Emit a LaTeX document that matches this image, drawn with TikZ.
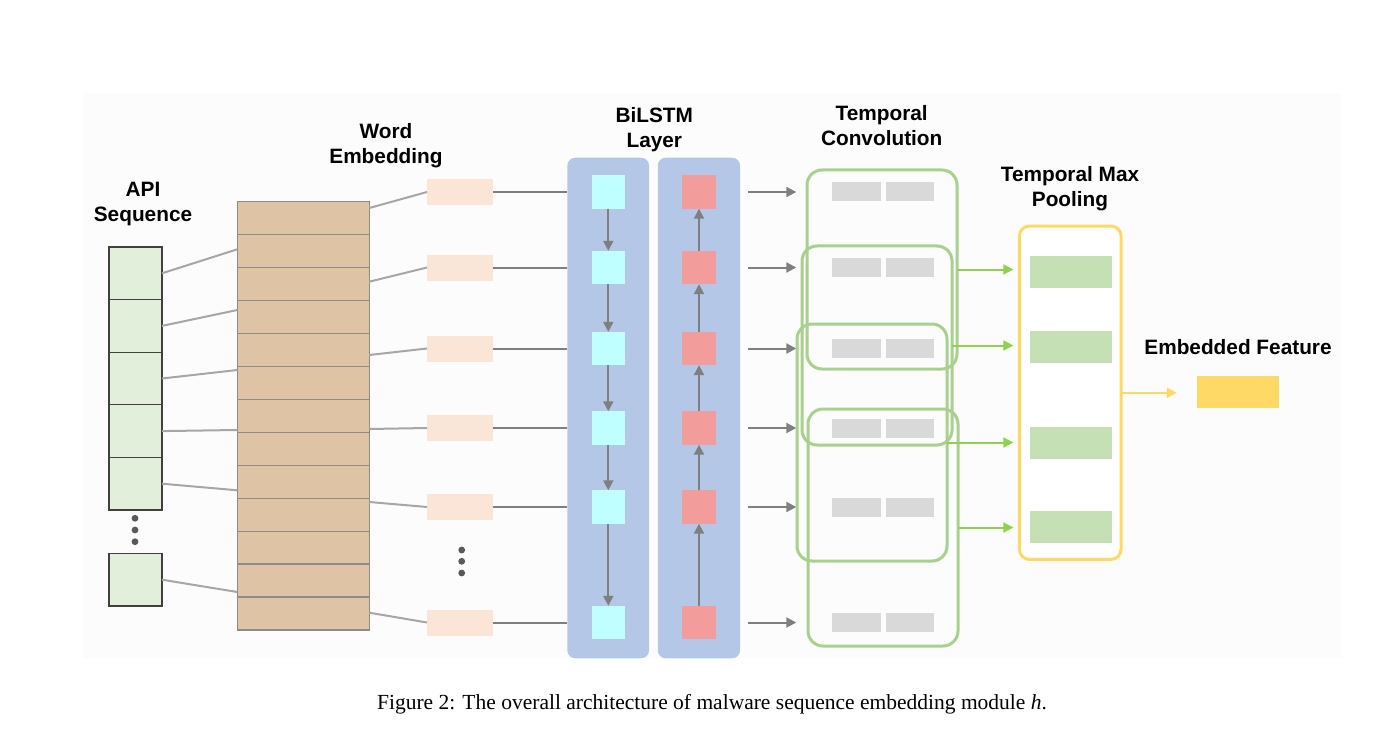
\documentclass[tikz,border=0pt]{standalone}
\usepackage{fontspec}
\setmainfont{Liberation Serif}
\newfontfamily\labelfont{Liberation Sans}
\usetikzlibrary{arrows.meta,calc}
\definecolor{bgc}{HTML}{FCFCFC}
\definecolor{apigreen}{HTML}{E2EFDA}
\definecolor{embtan}{HTML}{DFC3A5}
\definecolor{embline}{HTML}{8C8C8C}
\definecolor{orangelight}{HTML}{FBE5D6}
\definecolor{panelblue}{HTML}{B4C7E7}
\definecolor{cyanbox}{HTML}{BFFFFF}
\definecolor{redbox}{HTML}{F29C9C}
\definecolor{bargray}{HTML}{D9D9D9}
\definecolor{convgreen}{HTML}{A9D18E}
\definecolor{arrgreen}{HTML}{92D050}
\definecolor{poolgreen}{HTML}{C5E0B4}
\definecolor{yel}{HTML}{FFD966}
\definecolor{lightline}{HTML}{A6A6A6}
\definecolor{darkline}{HTML}{7F7F7F}
\definecolor{dotgray}{HTML}{595959}
\begin{document}
\begin{tikzpicture}[x=0.5pt,y=-0.5pt,
  lbl/.style={font=\labelfont\bfseries\fontsize{10.4}{12.5}\selectfont, align=center, inner sep=0},
  apicell/.style={draw=black!75, line width=0.6pt, fill=apigreen, minimum width=26.5pt, minimum height=26.3pt, inner sep=0, outer sep=0},
  embbox/.style={draw=embline, line width=0.6pt, fill=embtan, minimum width=66pt, minimum height=214.35pt, inner sep=0, outer sep=0},
  orbox/.style={fill=orangelight, minimum width=33pt, minimum height=13pt, inner sep=0, outer sep=0},
  panel/.style={fill=panelblue, rounded corners=4pt, minimum height=250.3pt, inner sep=0, outer sep=0},
  cybox/.style={fill=cyanbox, minimum width=16.7pt, minimum height=16.7pt, inner sep=0, outer sep=0},
  rdbox/.style={fill=redbox, minimum width=16.7pt, minimum height=16.7pt, inner sep=0, outer sep=0},
  gbar/.style={fill=bargray, minimum width=24.2pt, minimum height=9.5pt, inner sep=0, outer sep=0},
  convbox/.style={draw=convgreen, line width=1.5pt, rounded corners=7.5pt, minimum width=75pt, inner sep=0, outer sep=0},
  poolbox/.style={draw=yel, line width=1.5pt, rounded corners=5pt, fill=white, minimum width=50.85pt, minimum height=166.65pt, inner sep=0, outer sep=0},
  pbar/.style={fill=poolgreen, minimum width=41pt, minimum height=16pt, inner sep=0, outer sep=0},
  featbox/.style={fill=yel, minimum width=41pt, minimum height=16pt, inner sep=0, outer sep=0},
  dotc/.style={circle, fill=dotgray, minimum size=3.4pt, inner sep=0},
  thinline/.style={draw=lightline, line width=1pt},
  darkconn/.style={draw=darkline, line width=1pt},
  garrow/.style={draw=darkline, line width=1pt, -{Triangle[length=5pt,width=5pt]}},
  grarrow/.style={draw=arrgreen, line width=1pt, -{Triangle[length=5pt,width=5pt]}},
  yarrow/.style={draw=yel, line width=1pt, -{Triangle[length=5pt,width=5pt]}}
]
\useasboundingbox (0,0) rectangle (1396,743);
\fill[bgc] (83.3,93.3) rectangle (1341.7,658.3);

% labels
\node[lbl] (lapi) at (143,204.5) {API\\Sequence};
\node[lbl] (lword) at (386,145.7) {Word\\Embedding};
\node[lbl] (lbil) at (654.3,129.7) {BiLSTM\\Layer};
\node[lbl] (lconv) at (881.7,126) {Temporal\\Convolution};
\node[lbl] (lpool) at (1070,188.3) {Temporal Max\\Pooling};
\node[lbl] (lfeat) at (1238,347.2) {Embedded Feature};

% API sequence
\foreach \i in {1,...,5}{
  \node[apicell] (api\i) at (135.5,{247+52.6*(\i-0.5)}) {};
}
\node[apicell] (api6) at (135.5,579.7) {};
\node[dotc] (ad1) at (135,518.3) {};
\node[dotc] (ad2) at (135,530) {};
\node[dotc] (ad3) at (135,541.7) {};

% word embedding
\node[embbox] (emb) at (303.3,415.65) {};
\foreach \i in {1,...,12}{
  \draw[draw=embline, line width=0.6pt] ($(emb.north west)+(0,{\i*32.98})$) -- ($(emb.north east)+(0,{\i*32.98})$);
}

% API -> embedding connectors
\draw[thinline] (api1.east) -- ($(emb.north west)+(0,48)$);
\draw[thinline] (api2.east) -- ($(emb.north west)+(0,108.7)$);
\draw[thinline] (api3.east) -- ($(emb.north west)+(0,168.7)$);
\draw[thinline] (api4.east) -- ($(emb.north west)+(0,228.7)$);
\draw[thinline] (api5.east) -- ($(emb.north west)+(0,289)$);
\draw[thinline] (api6.east) -- ($(emb.north west)+(0,390.7)$);

% orange boxes and BiLSTM panels
\node[panel, minimum width=40.85pt] (lstmL) at (608.2,408) {};
\node[panel, minimum width=41.15pt] (lstmR) at (698.9,408) {};
\foreach \i/\y in {1/192,2/267.5,3/348.5,4/428,5/507,6/622.5}{
  \node[orbox] (or\i) at (460,\y) {};
  \node[cybox] (cy\i) at (608.3,\y) {};
  \node[rdbox] (rd\i) at (699,\y) {};
  \node[gbar] (bl\i) at (856.5,\y) {};
  \node[gbar] (br\i) at (910.2,\y) {};
  \draw[darkconn] (or\i.east) -- (or\i.east -| lstmL.west);
  \draw[garrow] ($(rd\i.east)+(32,0)$) -- ($(bl\i.west)+(-36,0)$);
}
\node[dotc] (od1) at (461.7,550) {};
\node[dotc] (od2) at (461.7,561.3) {};
\node[dotc] (od3) at (461.7,573) {};

% embedding -> orange connectors
\draw[thinline] ($(emb.north east)+(0,6.7)$) -- (or1.west);
\draw[thinline] ($(emb.north east)+(0,80.4)$) -- (or2.west);
\draw[thinline] ($(emb.north east)+(0,153.7)$) -- (or3.west);
\draw[thinline] ($(emb.north east)+(0,227.7)$) -- (or4.west);
\draw[thinline] ($(emb.north east)+(0,300.7)$) -- (or5.west);
\draw[thinline] ($(emb.north east)+(0,411.4)$) -- (or6.west);

% LSTM chain arrows
\foreach \i/\j in {1/2,2/3,3/4,4/5,5/6}{
  \draw[garrow] (cy\i.south) -- (cy\j.north);
  \draw[garrow] (rd\j.north) -- (rd\i.south);
}

% temporal convolution windows
\node[convbox, minimum height=99.5pt] (convA) at (882,269.5) {};
\node[convbox, minimum height=99.5pt] (convB) at (877,345.5) {};
\node[convbox, minimum height=118.5pt] (convC) at (872,442.5) {};
\node[convbox, minimum height=118.5pt] (convD) at (883,527.5) {};

% pooling
\node[poolbox] (pool) at (1070.2,392.7) {};
\node[pbar] (pb1) at (1071,272) {};
\node[pbar] (pb2) at (1071,347.3) {};
\node[pbar] (pb3) at (1071,443.3) {};
\node[pbar] (pb4) at (1071,527.3) {};

\draw[grarrow, shorten >=3pt] (convA.east) -- (convA.east -| pool.west);
\draw[grarrow, shorten >=3pt] (convB.east) -- (convB.east -| pool.west);
\draw[grarrow, shorten >=3pt] (convC.east) -- (convC.east -| pool.west);
\draw[grarrow, shorten >=3pt] (convD.east) -- (convD.east -| pool.west);

% embedded feature
\node[featbox] (feat) at (1237.8,392.2) {};
\draw[yarrow, shorten >=10pt] (pool.east) -- (pool.east -| feat.west);

% caption
\node[font=\fontsize{10.75}{13}\selectfont, inner sep=0] (cap) at (712,704) {Figure 2: The overall architecture of malware sequence embedding module \textit{h}.};
\end{tikzpicture}
\end{document}
